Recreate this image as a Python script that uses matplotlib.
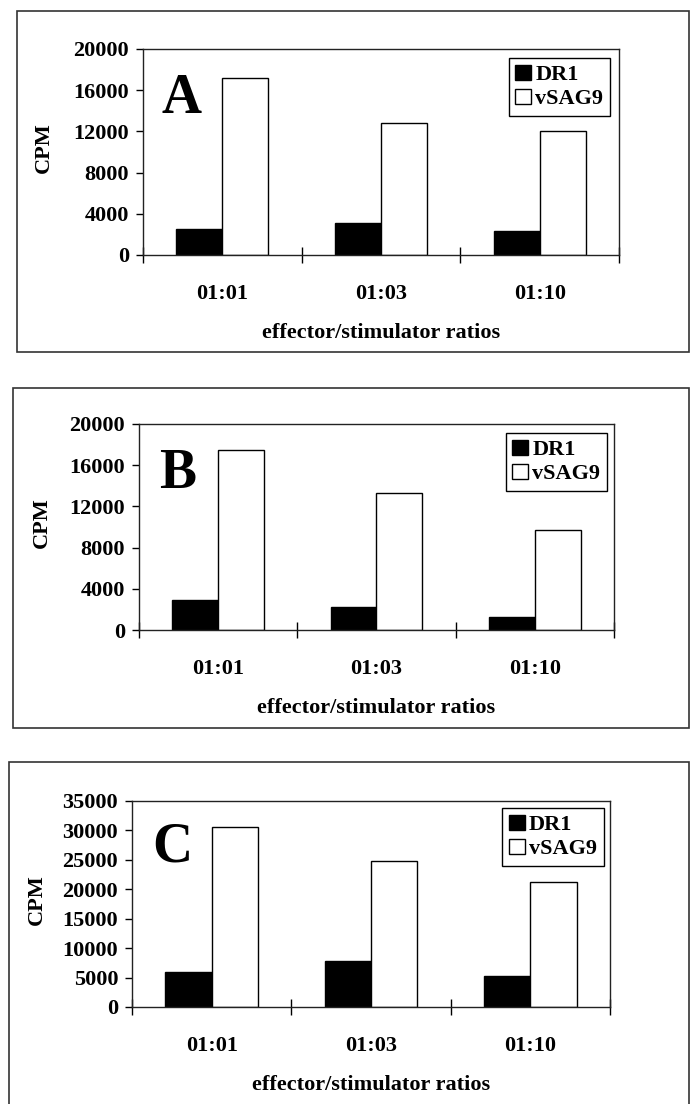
import matplotlib
matplotlib.use("Agg")
import matplotlib.pyplot as plt
from matplotlib.patches import Rectangle
import numpy as np

plt.rcParams['font.family'] = ['Liberation Serif', 'DejaVu Serif']
plt.rcParams['font.weight'] = 'bold'

categories = ["01:01", "01:03", "01:10"]
series_names = ["DR1", "vSAG9"]
panel_labels = ["A", "B", "C"]

dr1_A = [2500, 3100, 2300]
vsag9_A = [17200, 12800, 12000]
dr1_B = [2900, 2200, 1300]
vsag9_B = [17500, 13300, 9700]
dr1_C = [6000, 7900, 5200]
vsag9_C = [30500, 24800, 21300]

ymax = [20000, 20000, 35000]
ystep = [4000, 4000, 5000]
xlabel_text = "effector/stimulator ratios"
ylabel_text = "CPM"

W, H = 691, 1104
fig = plt.figure(figsize=(W / 100, H / 100), dpi=100)

def fx(px):
    return px / W

def fy(py):
    return 1 - py / H

# panel layout in pixels: axes (left, top, right, bottom), frame (left, top, right, bottom)
axes_px = [(143, 49, 619, 255), (139, 424, 614, 630), (132, 801, 610, 1007)]
frames_px = [(17, 11, 689, 352), (13, 388, 689, 728), (9, 762, 689, 1110)]
legend_anchor = [(0.981, 0.956), (0.985, 0.956), (0.987, 0.966)]
letter_pos = [(0.038, 0.689), (0.042, 0.689), (0.042, 0.704)]
ylabel_px = [44, 42, 37]

data = [(dr1_A, vsag9_A), (dr1_B, vsag9_B), (dr1_C, vsag9_C)]

for (l, t, r, b) in frames_px:
    fig.patches.append(Rectangle((fx(l), fy(b)), fx(r) - fx(l), fy(t) - fy(b),
                                 transform=fig.transFigure, fill=False,
                                 edgecolor='#333333', linewidth=1.2))

fs = 16
x = np.arange(1, len(categories) + 1)
bw = 0.29
for i in range(3):
    l, t, r, b = axes_px[i]
    ax = fig.add_axes([fx(l), fy(b), fx(r) - fx(l), fy(t) - fy(b)])
    d1, d2 = data[i]
    ax.bar(x - bw / 2, d1, bw, color='black', edgecolor='black', linewidth=1, label=series_names[0])
    ax.bar(x + bw / 2, d2, bw, color='white', edgecolor='black', linewidth=1, label=series_names[1])
    ax.set_xlim(0.5, 3.5)
    ax.set_ylim(0, ymax[i])
    ax.set_yticks(np.arange(0, ymax[i] + 1, ystep[i]))
    ax.set_xticks(x)
    ax.set_xticklabels(categories)
    ax.set_xticks([0.5, 1.5, 2.5, 3.5], minor=True)
    ax.tick_params(axis='x', which='major', length=0, pad=21, labelsize=fs)
    ax.tick_params(axis='x', which='minor', direction='inout', length=12, width=1)
    ax.tick_params(axis='y', which='major', direction='out', length=5, width=1, pad=5, labelsize=fs)
    for lab in ax.get_xticklabels() + ax.get_yticklabels():
        lab.set_fontweight('bold')
    for sp in ax.spines.values():
        sp.set_linewidth(1)
        sp.set_color('#222222')
    height = b - t
    ax.text(0.5, -78 / height, xlabel_text, transform=ax.transAxes, ha='center', va='center',
            fontsize=fs, fontweight='bold')
    ax.text((ylabel_px[i] - l) / (r - l), 0.52, ylabel_text,
            transform=ax.transAxes, rotation=90, ha='center', va='center',
            fontsize=fs, fontweight='bold')
    ax.text(letter_pos[i][0], letter_pos[i][1], panel_labels[i], transform=ax.transAxes,
            ha='left', va='baseline', fontsize=40, fontweight='bold')
    leg = ax.legend(loc='upper right', bbox_to_anchor=legend_anchor[i], borderaxespad=0,
                    fontsize=fs, handlelength=0.7, handleheight=0.7, handletextpad=0.2,
                    labelspacing=0.15, borderpad=0.3, fancybox=False, framealpha=1,
                    edgecolor='black', prop={'weight': 'bold', 'size': fs})
    leg.get_frame().set_linewidth(1)

fig.savefig("out.png", dpi=100)
